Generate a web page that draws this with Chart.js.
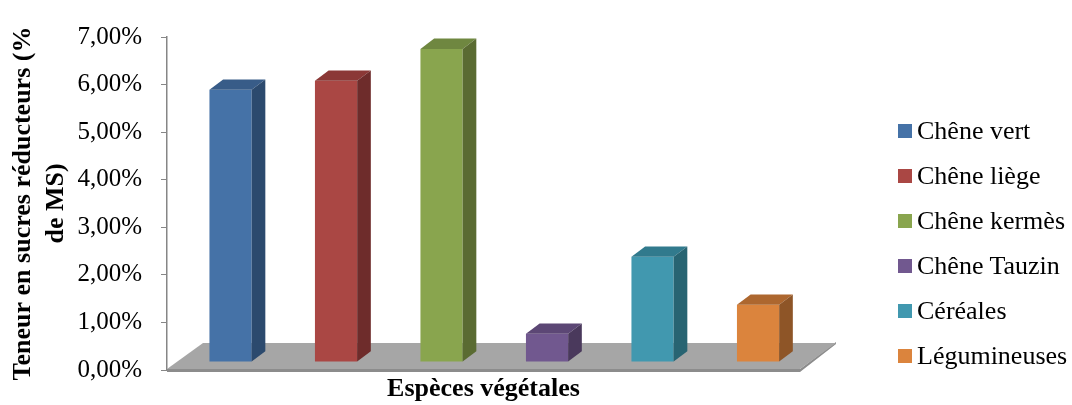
<!DOCTYPE html>
<html lang="fr">
<head>
<meta charset="utf-8">
<title>Teneur en sucres réducteurs</title>
<script src="https://cdn.jsdelivr.net/npm/chart.js@4.4.1/dist/chart.umd.min.js"></script>
<style>
    body { margin: 0; background: #fff; }
    #wrap { position: relative; width: 1072px; height: 405px; }
    #legend { position: absolute; left: 898px; top: 0; font-family: 'Liberation Serif', 'Times New Roman', serif; font-size: 26px; color: #000; }
    .item { position: absolute; left: 0; height: 44px; display: flex; align-items: center; white-space: nowrap; }
    .box { width: 14px; height: 14px; margin-right: 5px; }
</style>
</head>
<body>
<div id="wrap">
    <canvas id="chart" width="1072" height="405"></canvas>
    <div id="legend"></div>
</div>
<script>
// Données
const categories = [''];
const species = ['Chêne vert', 'Chêne liège', 'Chêne kermès', 'Chêne Tauzin', 'Céréales', 'Légumineuses'];
const values = [5.72, 5.91, 6.58, 0.59, 2.21, 1.20]; // % de MS
const yTicks = [0, 1, 2, 3, 4, 5, 6, 7];

// Couleurs : face avant, côté, dessus
const frontColors = ['#4572a7', '#aa4744', '#89a54e', '#71588f', '#4198af', '#db843d'];
const sideColors = ['#2c4a6e', '#6e2c2b', '#5a6b32', '#4a395c', '#286472', '#8e5527'];
const topColors = ['#385c88', '#8b3836', '#6f8740', '#5c4775', '#317a8d', '#ad672f'];

// profondeur du "plancher" 3D
const depth = { dx: 36, dy: -27 };
const barFront = 0.3;
const barBack = 0.68;

function poly(ctx, pts) {
    ctx.beginPath();
    ctx.moveTo(pts[0][0], pts[0][1]);
    for (let k = 1; k < pts.length; k++) ctx.lineTo(pts[k][0], pts[k][1]);
    ctx.closePath();
    ctx.fill();
}

const effet3d = {
    id: 'effet3d',
    beforeDatasetsDraw(chart) {
        const { ctx, chartArea: a } = chart;
        const b = a.bottom;
        ctx.save();
        // épaisseur du plancher
        ctx.fillStyle = '#8c8c8c';
        poly(ctx, [[a.left, b - 1], [a.right, b - 1], [a.right + depth.dx, b + depth.dy - 1],
                   [a.right + depth.dx, b + depth.dy + 1], [a.right, b + 2], [a.left, b + 2]]);
        ctx.fillStyle = '#a6a6a6';
        poly(ctx, [[a.left, b - 1], [a.right, b - 1], [a.right + depth.dx, b + depth.dy],
                   [a.left + depth.dx, b + depth.dy]]);
        ctx.restore();
        // les barres sont dessinées un peu en retrait
        ctx.save();
        ctx.translate(depth.dx * barFront, depth.dy * barFront);
    },
    afterDatasetsDraw(chart) {
        const ctx = chart.ctx;
        ctx.restore();
        const ox = depth.dx * barFront, oy = depth.dy * barFront;
        const sx = depth.dx * (barBack - barFront), sy = depth.dy * (barBack - barFront);
        ctx.save();
        chart.data.datasets.forEach((ds, i) => {
            const bar = chart.getDatasetMeta(i).data[0];
            const l = bar.x - bar.width / 2 + ox;
            const r = bar.x + bar.width / 2 + ox;
            const t = bar.y + oy;
            const bt = bar.base + oy;
            ctx.fillStyle = topColors[i];
            poly(ctx, [[l, t], [r, t], [r + sx, t + sy], [l + sx, t + sy]]);
            ctx.fillStyle = sideColors[i];
            poly(ctx, [[r, t], [r + sx, t + sy], [r + sx, bt + sy], [r, bt]]);
        });
        ctx.restore();
    }
};

Chart.defaults.font.family = "'Liberation Serif', 'Times New Roman', serif";
Chart.defaults.color = '#000';

const datasets = species.map((name, i) => ({
    label: name,
    data: [values[i]],
    backgroundColor: frontColors[i],
    borderWidth: 0,
    barPercentage: 0.4,
    categoryPercentage: 1
}));

const ctx = document.getElementById('chart').getContext('2d');
new Chart(ctx, {
    type: 'bar',
    data: { labels: categories, datasets: datasets },
    options: {
        responsive: false,
        animation: false,
        layout: { padding: { left: 0, right: 272, top: 37, bottom: 0 } },
        plugins: {
            legend: { display: false },
            tooltip: { enabled: false }
        },
        scales: {
            x: {
                afterFit: (scale) => { scale.height = 35; },
                ticks: { display: false },
                grid: { display: false },
                border: { display: false },
                title: {
                    display: true,
                    text: 'Espèces végétales',
                    font: { size: 26, weight: 'bold' },
                    padding: { top: 0, bottom: 0 }
                }
            },
            y: {
                min: 0,
                max: 7,
                afterFit: (scale) => { scale.width = 167; },
                afterBuildTicks: (scale) => { scale.ticks = yTicks.map(v => ({ value: v })); },
                ticks: {
                    font: { size: 25 },
                    padding: 19,
                    callback: (v) => v.toFixed(2).replace('.', ',') + '%'
                },
                grid: { drawOnChartArea: false, drawTicks: true, tickLength: 6, color: '#868686' },
                border: { display: true, color: '#868686', width: 1.5 },
                title: {
                    display: true,
                    text: ['Teneur en sucres réducteurs (%', 'de MS)'],
                    font: { size: 26, weight: 'bold', lineHeight: 1.3 },
                    padding: { top: 6, bottom: 0 }
                }
            }
        }
    },
    plugins: [effet3d]
});

// Légende HTML
const legend = document.getElementById('legend');
species.forEach((name, i) => {
    const item = document.createElement('div');
    item.className = 'item';
    item.style.top = (109 + 45 * i) + 'px';
    item.innerHTML = '<span class="box" style="background:' + frontColors[i] + '"></span><span>' + name + '</span>';
    legend.appendChild(item);
});
</script>
</body>
</html>
